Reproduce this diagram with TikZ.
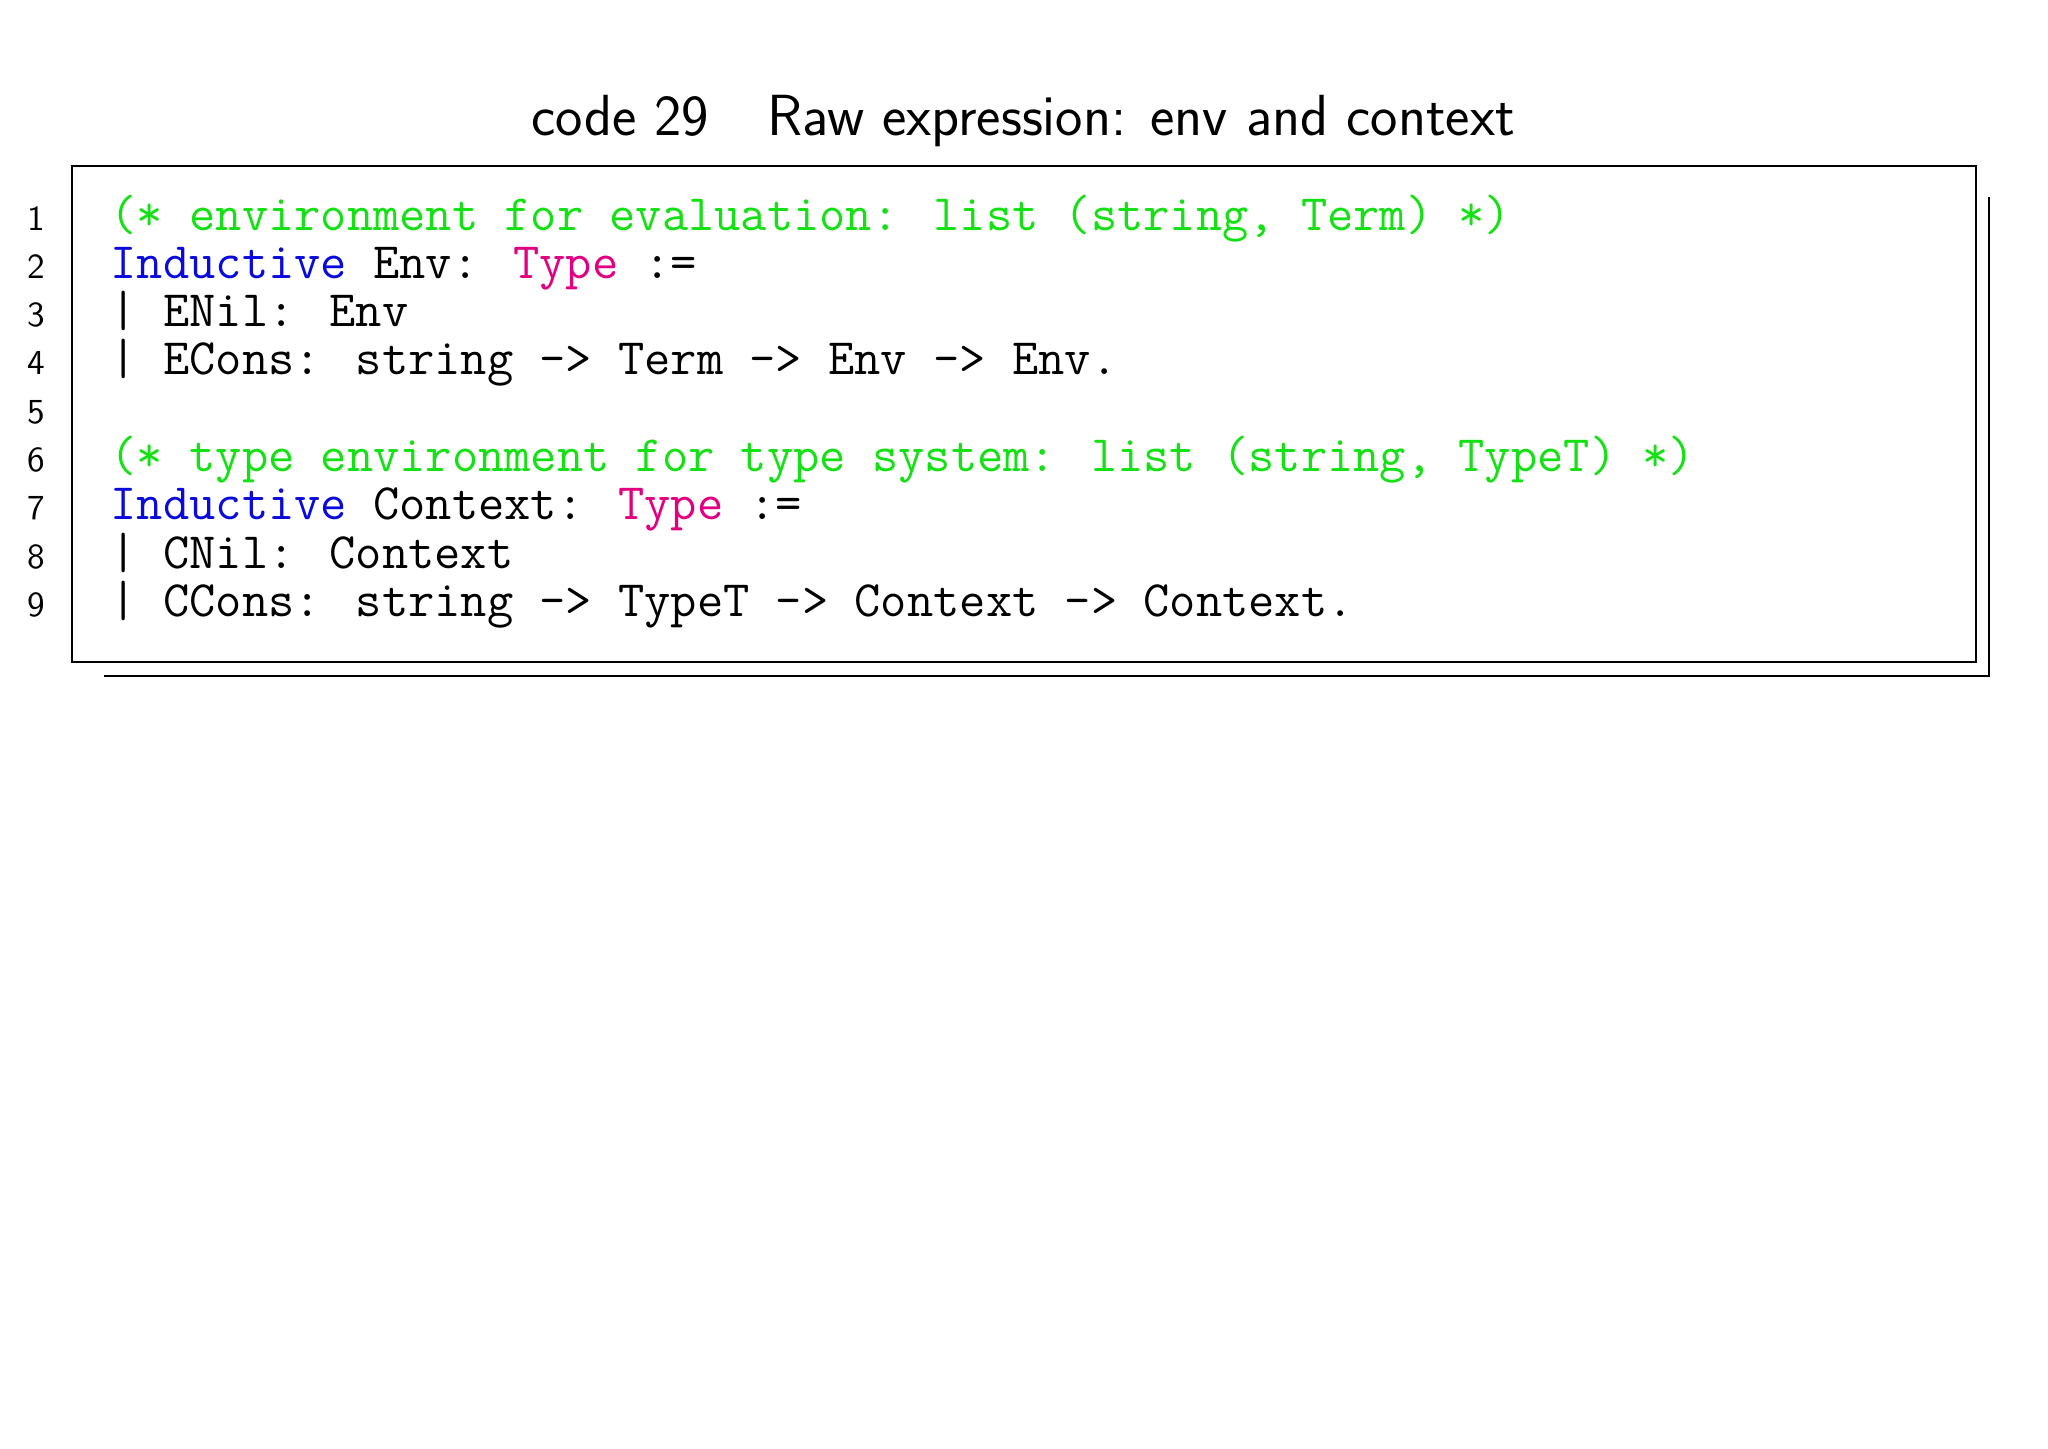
\documentclass[tikz,border=0pt]{standalone}
\usepackage{tikz}
\usetikzlibrary{positioning}
\definecolor{cmtgreen}{RGB}{20,225,20}
\definecolor{kwblue}{RGB}{10,10,220}
\definecolor{typemag}{RGB}{225,0,130}
\tikzset{
  codeline/.style={anchor=base west, inner sep=0pt, font=\fontsize{14.5}{16}\ttfamily},
  lineno/.style={anchor=base, inner sep=0pt, font=\fontsize{10}{12}\sffamily},
}
\newcommand{\cmt}[1]{\textcolor{cmtgreen}{#1}}
\newcommand{\kw}[1]{\textcolor{kwblue}{#1}}
\newcommand{\ty}[1]{\textcolor{typemag}{#1}}
\begin{document}
\begin{tikzpicture}[x=0.01cm,y=-0.01cm]
		\useasboundingbox (0,0) rectangle (2048,1448);
		% title
		\node[font=\fontsize{16.5}{20}\sffamily] (title) at (1023,121) {code 29\quad Raw expression: env and context};
		% frame with shadow
		\draw[line width=0.7pt] (72,166) rectangle (1976,662);
		\draw[line width=0.7pt] (104,676) -- (1989,676) -- (1989,197);
		% line numbers
		\foreach \n in {1,...,9}
			\node[lineno] (n\n) at (36,{230+48.3*(\n-1)}) {\n};
		% code
		\node[codeline] (l1) at (110,230) {\cmt{(* environment for evaluation: list (string, Term) *)}};
		\node[codeline] (l2) at (110,278.3) {\kw{Inductive} Env: \ty{Type} :=};
		\node[codeline] (l3) at (110,326.6) {| ENil: Env};
		\node[codeline] (l4) at (110,374.9) {| ECons: string -> Term -> Env -> Env.};
		\node[codeline] (l6) at (110,471.5) {\cmt{(* type environment for type system: list (string, TypeT) *)}};
		\node[codeline] (l7) at (110,519.8) {\kw{Inductive} Context: \ty{Type} :=};
		\node[codeline] (l8) at (110,568.1) {| CNil: Context};
		\node[codeline] (l9) at (110,616.4) {| CCons: string -> TypeT -> Context -> Context.};
\end{tikzpicture}
\end{document}
